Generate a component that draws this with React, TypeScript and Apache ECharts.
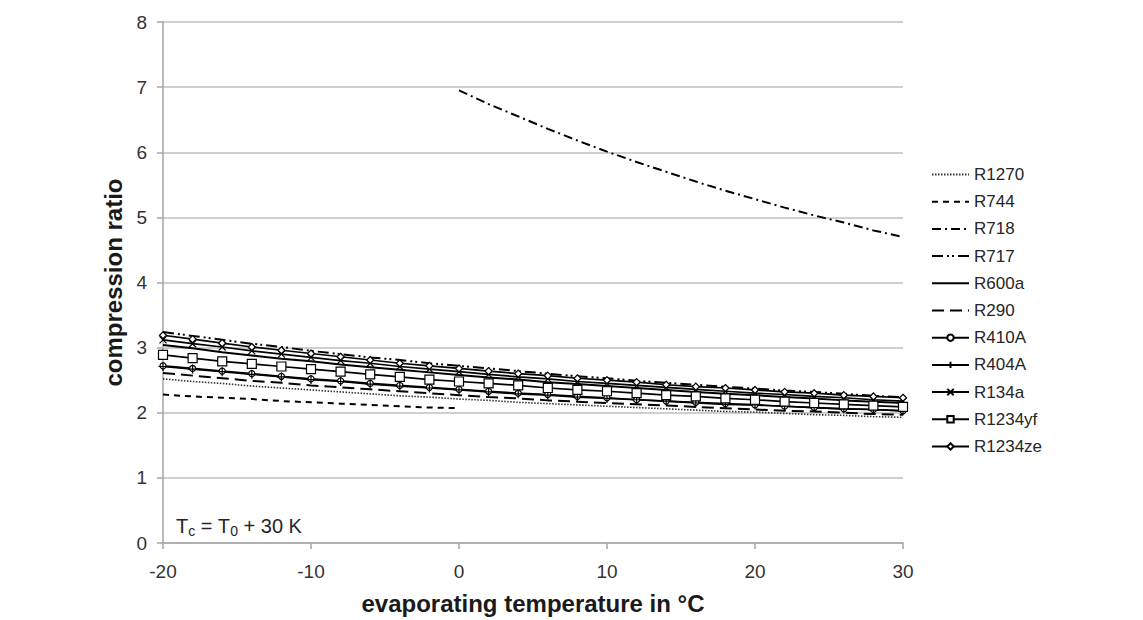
import React, { useEffect, useRef } from "react";
import * as echarts from "echarts";

// Evaporating temperatures in °C (every 2 K)
const temps = [-20, -18, -16, -14, -12, -10, -8, -6, -4, -2, 0, 2, 4, 6, 8, 10, 12, 14, 16, 18, 20, 22, 24, 26, 28, 30];
// Temperature ranges for the fluids that are not shown over the full span
const tempsR744 = [-20, -18, -16, -14, -12, -10, -8, -6, -4, -2, 0];
const tempsR718 = [0, 2, 4, 6, 8, 10, 12, 14, 16, 18, 20, 22, 24, 26, 28, 30];

// Compression ratios p_c / p_0 at T_c = T_0 + 30 K
const r1270 = [2.52, 2.48, 2.45, 2.41, 2.38, 2.35, 2.32, 2.29, 2.26, 2.24, 2.21, 2.19, 2.16, 2.14, 2.12, 2.10, 2.08, 2.06, 2.04, 2.02, 2.01, 1.99, 1.97, 1.96, 1.94, 1.93];
const r744 = [2.28, 2.25, 2.23, 2.21, 2.18, 2.16, 2.14, 2.12, 2.10, 2.08, 2.07];
const r718 = [6.95, 6.74, 6.55, 6.36, 6.18, 6.01, 5.85, 5.70, 5.55, 5.41, 5.28, 5.15, 5.03, 4.92, 4.80, 4.70];
const r717 = [3.24, 3.18, 3.12, 3.06, 3.01, 2.95, 2.90, 2.85, 2.81, 2.76, 2.72, 2.68, 2.64, 2.60, 2.56, 2.53, 2.49, 2.46, 2.43, 2.40, 2.37, 2.34, 2.32, 2.29, 2.26, 2.24];
const r600a = [3.04, 2.99, 2.93, 2.88, 2.83, 2.79, 2.74, 2.70, 2.66, 2.62, 2.58, 2.54, 2.51, 2.47, 2.44, 2.41, 2.38, 2.35, 2.32, 2.29, 2.27, 2.24, 2.22, 2.19, 2.17, 2.15];
const r290 = [2.61, 2.57, 2.53, 2.49, 2.46, 2.42, 2.39, 2.36, 2.33, 2.30, 2.27, 2.24, 2.22, 2.19, 2.17, 2.15, 2.13, 2.11, 2.09, 2.07, 2.05, 2.03, 2.02, 2.00, 1.98, 1.97];
const r410a = [2.72, 2.68, 2.64, 2.60, 2.56, 2.52, 2.49, 2.45, 2.42, 2.39, 2.36, 2.33, 2.30, 2.28, 2.25, 2.23, 2.20, 2.18, 2.16, 2.14, 2.12, 2.10, 2.08, 2.06, 2.05, 2.03];
const r404a = [2.71, 2.67, 2.63, 2.59, 2.55, 2.51, 2.48, 2.44, 2.41, 2.38, 2.35, 2.32, 2.29, 2.27, 2.24, 2.22, 2.20, 2.18, 2.15, 2.13, 2.12, 2.10, 2.08, 2.06, 2.05, 2.03];
const r134a = [3.12, 3.06, 3.01, 2.95, 2.90, 2.85, 2.80, 2.76, 2.71, 2.67, 2.63, 2.59, 2.55, 2.52, 2.48, 2.45, 2.42, 2.39, 2.36, 2.33, 2.30, 2.28, 2.25, 2.23, 2.20, 2.18];
const r1234yf = [2.89, 2.84, 2.79, 2.75, 2.71, 2.67, 2.63, 2.59, 2.55, 2.51, 2.48, 2.45, 2.42, 2.38, 2.35, 2.33, 2.30, 2.27, 2.25, 2.22, 2.20, 2.17, 2.15, 2.13, 2.11, 2.09];
const r1234ze = [3.19, 3.13, 3.07, 3.01, 2.96, 2.91, 2.86, 2.81, 2.76, 2.72, 2.68, 2.64, 2.60, 2.57, 2.53, 2.50, 2.47, 2.43, 2.40, 2.38, 2.35, 2.32, 2.30, 2.27, 2.25, 2.23];

const seriesNames = ["R1270", "R744", "R718", "R717", "R600a", "R290", "R410A", "R404A", "R134a", "R1234yf", "R1234ze"];

const FONT = "'Liberation Sans', Arial, sans-serif";
const INK = "#000000";

const pairs = (xs: number[], ys: number[]) => xs.map((x, i) => [x, ys[i]]);

// Line without markers; the transparent item colour keeps the legend free of a symbol
const plainLine = (name: string, xs: number[], ys: number[], type: any, width: number, color = INK) => ({
  name,
  type: "line",
  data: pairs(xs, ys),
  symbol: "none",
  showSymbol: false,
  lineStyle: { color, width, type },
  itemStyle: { color: "transparent", borderWidth: 0 },
  z: 2,
});

// Solid line with an open marker at every data point
const markedLine = (name: string, ys: number[], symbol: string, size: number, fill: string) => ({
  name,
  type: "line",
  data: pairs(temps, ys),
  symbol,
  symbolSize: size,
  showSymbol: true,
  lineStyle: { color: INK, width: 1.7, type: "solid" },
  itemStyle: { color: fill, borderColor: INK, borderWidth: 1.2 },
  z: 3,
});

const PLUS = "path://M5,0 L5,10 M0,5 L10,5";
const CROSS = "path://M0,0 L10,10 M10,0 L0,10";

export default function App() {
  const ref = useRef<HTMLDivElement>(null);

  useEffect(() => {
    if (!ref.current) return;
    const chart = echarts.init(ref.current, undefined, { renderer: "svg" });
    chart.setOption({
      animation: false,
      backgroundColor: "#ffffff",
      textStyle: { fontFamily: FONT },
      grid: { left: 163, right: 240, top: 22, bottom: 74, containLabel: false },
      xAxis: {
        type: "value",
        min: -20,
        max: 30,
        interval: 10,
        name: "evaporating temperature in °C",
        nameLocation: "middle",
        nameGap: 48,
        nameTextStyle: { fontSize: 24, fontWeight: "bold", color: "#1a1a1a", fontFamily: FONT },
        axisLine: { show: true, onZero: false, lineStyle: { color: "#a6a6a6", width: 1.5 } },
        axisTick: { show: true, length: 6, lineStyle: { color: "#a6a6a6", width: 1.5 } },
        axisLabel: { fontSize: 19, color: "#333333", margin: 19, fontFamily: FONT },
        splitLine: { show: false },
      },
      yAxis: {
        type: "value",
        min: 0,
        max: 8,
        interval: 1,
        name: "compression ratio",
        nameLocation: "middle",
        nameGap: 27,
        nameRotate: 90,
        nameTextStyle: { fontSize: 24, fontWeight: "bold", color: "#1a1a1a", fontFamily: FONT },
        axisLine: { show: true, onZero: false, lineStyle: { color: "#a6a6a6", width: 1.5 } },
        axisTick: { show: true, length: 6, lineStyle: { color: "#a6a6a6", width: 1.5 } },
        axisLabel: { fontSize: 19, color: "#333333", margin: 16, fontFamily: FONT },
        splitLine: { show: true, lineStyle: { color: "#bfbfbf", width: 1.5 } },
      },
      legend: {
        orient: "vertical",
        left: 931,
        top: 166,
        itemWidth: 37,
        itemHeight: 8,
        itemGap: 10.2,
        padding: 0,
        data: seriesNames,
        textStyle: { fontSize: 17, color: "#262626", fontFamily: FONT },
      },
      series: [
        plainLine("R1270", temps, r1270, [1.5, 1.5], 1.6, "#333333"),
        plainLine("R744", tempsR744, r744, [6, 5], 2),
        plainLine("R718", tempsR718, r718, [9, 4, 2, 4], 2),
        plainLine("R717", temps, r717, [11, 4, 2, 3, 2, 4], 2),
        plainLine("R600a", temps, r600a, "solid", 2),
        plainLine("R290", temps, r290, [12, 6], 2),
        markedLine("R410A", r410a, "circle", 6, "#ffffff"),
        markedLine("R404A", r404a, PLUS, 9, "none"),
        markedLine("R134a", r134a, CROSS, 7, "none"),
        markedLine("R1234yf", r1234yf, "rect", 9, "#ffffff"),
        markedLine("R1234ze", r1234ze, "diamond", 7, "#ffffff"),
      ],
      graphic: [
        {
          type: "text",
          left: 176,
          top: 516,
          style: {
            text: "T{sub|c} = T{sub|0} + 30 K",
            fontSize: 20,
            fontFamily: FONT,
            fill: "#262626",
            rich: {
              sub: { fontSize: 14, fontFamily: FONT, fill: "#262626", padding: [9, 0, 0, 0] },
            },
          },
        },
      ],
    });
    return () => chart.dispose();
  }, []);

  return (
    <div
      ref={ref}
      style={{ position: "fixed", left: 0, top: 0, width: 1143, height: 620, background: "#fff" }}
    />
  );
}
